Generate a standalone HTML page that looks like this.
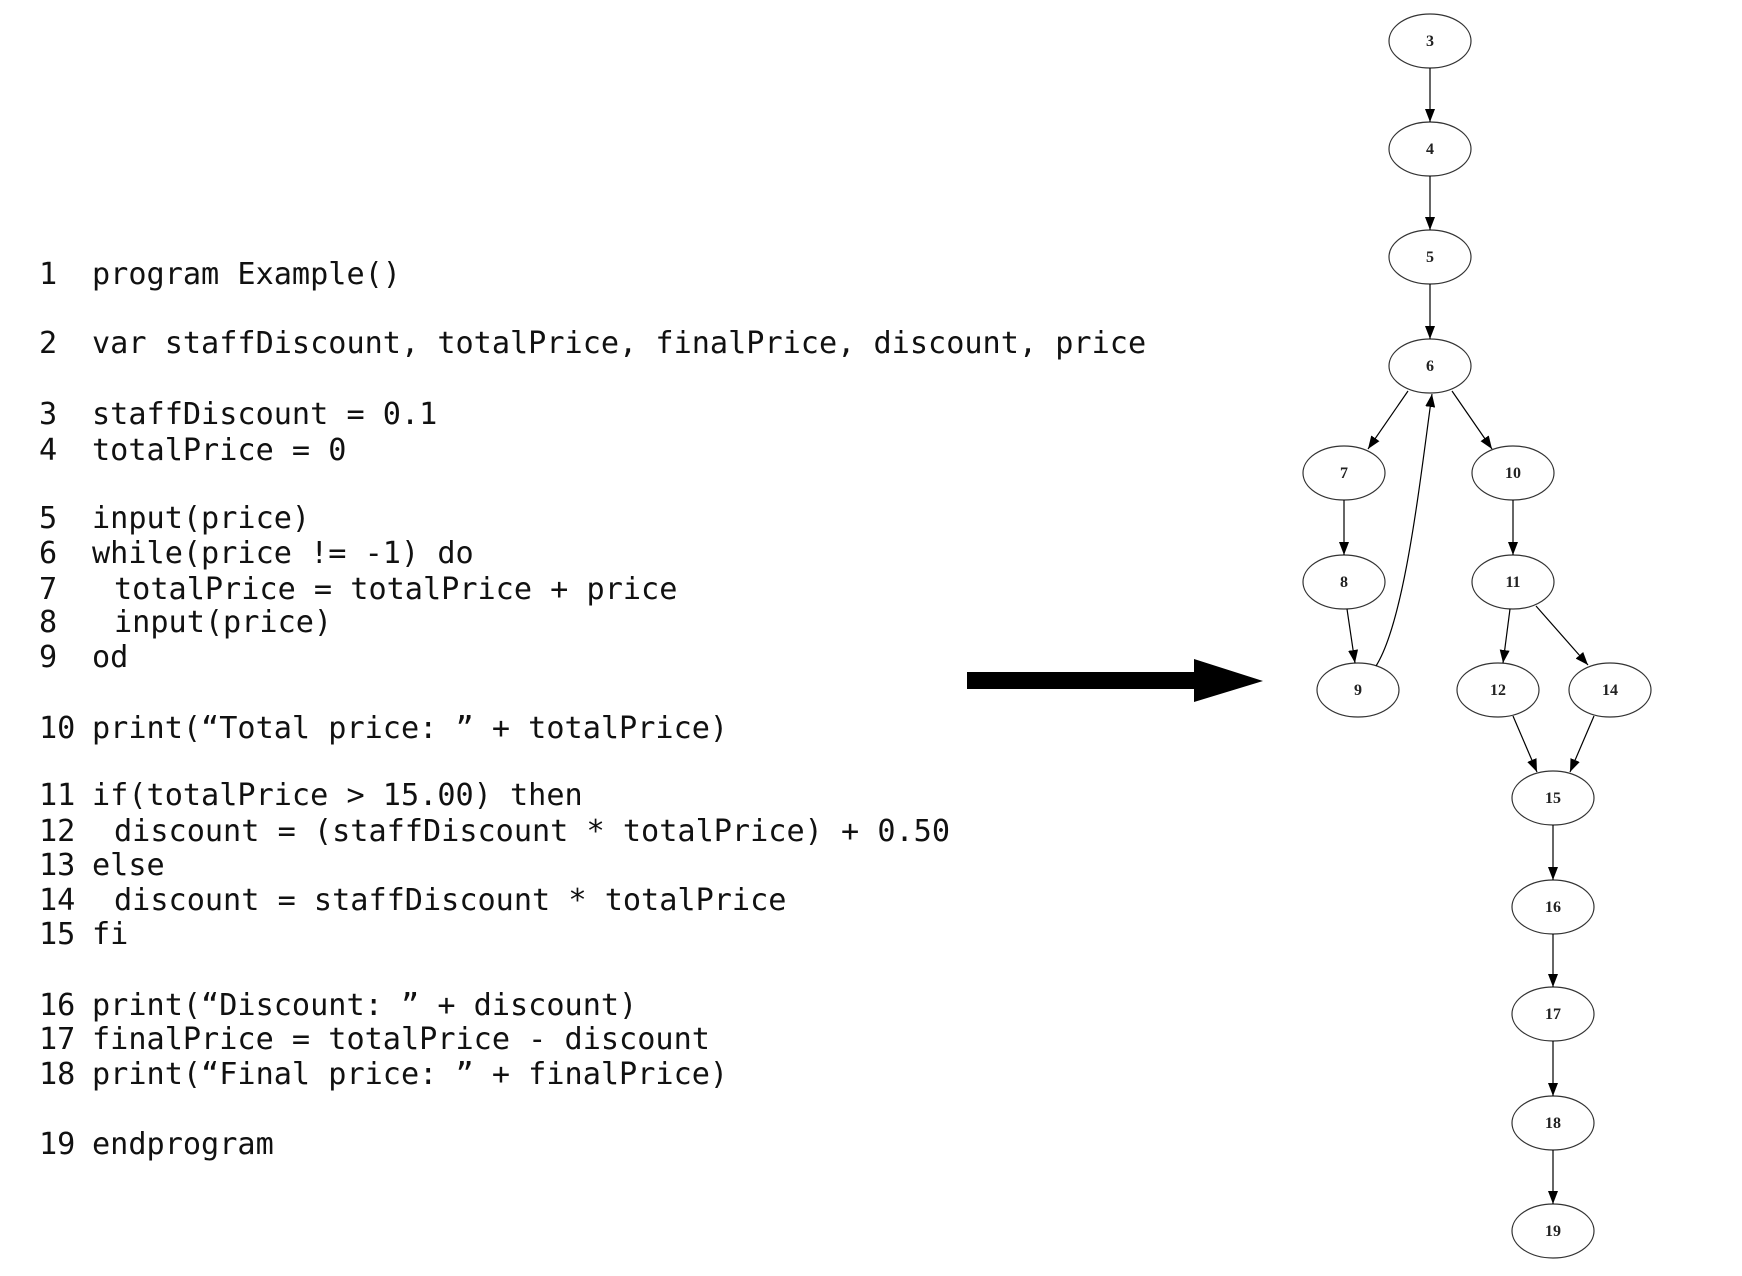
<!DOCTYPE html>
<html><head><meta charset="utf-8"><style>
html,body{margin:0;padding:0;background:#fff;}
svg{display:block;}
.c{font-family:"DejaVu Sans Mono","Liberation Mono",monospace;font-size:30.2px;fill:#111;}
.n{font-family:"Liberation Serif",serif;font-size:16px;font-weight:bold;fill:#222;text-anchor:middle;}
</style></head><body>
<svg width="1742" height="1276" viewBox="0 0 1742 1276" xmlns="http://www.w3.org/2000/svg">
<defs><marker id="a" markerUnits="userSpaceOnUse" markerWidth="14" markerHeight="10" refX="13" refY="5" orient="auto"><path d="M0,0 L13,5 L0,10 z" fill="#000"/></marker></defs>
<g class="c">
<text x="39" y="284">1</text><text x="92" y="284">program Example()</text>
<text x="39" y="353">2</text><text x="92" y="353">var staffDiscount, totalPrice, finalPrice, discount, price</text>
<text x="39" y="424">3</text><text x="92" y="424">staffDiscount = 0.1</text>
<text x="39" y="460">4</text><text x="92" y="460">totalPrice = 0</text>
<text x="39" y="528">5</text><text x="92" y="528">input(price)</text>
<text x="39" y="563">6</text><text x="92" y="563">while(price != -1) do</text>
<text x="39" y="599">7</text><text x="114" y="599">totalPrice = totalPrice + price</text>
<text x="39" y="632">8</text><text x="114" y="632">input(price)</text>
<text x="39" y="667">9</text><text x="92" y="667">od</text>
<text x="39" y="738">10</text><text x="92" y="738">print(“Total price: ” + totalPrice)</text>
<text x="39" y="805">11</text><text x="92" y="805">if(totalPrice &gt; 15.00) then</text>
<text x="39" y="841">12</text><text x="114" y="841">discount = (staffDiscount * totalPrice) + 0.50</text>
<text x="39" y="875">13</text><text x="92" y="875">else</text>
<text x="39" y="910">14</text><text x="114" y="910">discount = staffDiscount * totalPrice</text>
<text x="39" y="944">15</text><text x="92" y="944">fi</text>
<text x="39" y="1015">16</text><text x="92" y="1015">print(“Discount: ” + discount)</text>
<text x="39" y="1049">17</text><text x="92" y="1049">finalPrice = totalPrice - discount</text>
<text x="39" y="1084">18</text><text x="92" y="1084">print(“Final price: ” + finalPrice)</text>
<text x="39" y="1154">19</text><text x="92" y="1154">endprogram</text>
</g>
<path d="M967,672 H1194 V659 L1263,681 L1194,702 V689 H967 z" fill="#000"/>
<g fill="#fff" stroke="#333" stroke-width="1.2">
<ellipse cx="1430" cy="41" rx="41" ry="27"/>
<ellipse cx="1430" cy="149" rx="41" ry="27"/>
<ellipse cx="1430" cy="257" rx="41" ry="27"/>
<ellipse cx="1430" cy="366" rx="41" ry="27"/>
<ellipse cx="1344" cy="473" rx="41" ry="27"/>
<ellipse cx="1513" cy="473" rx="41" ry="27"/>
<ellipse cx="1344" cy="582" rx="41" ry="27"/>
<ellipse cx="1513" cy="582" rx="41" ry="27"/>
<ellipse cx="1358" cy="690" rx="41" ry="27"/>
<ellipse cx="1498" cy="690" rx="41" ry="27"/>
<ellipse cx="1610" cy="690" rx="41" ry="27"/>
<ellipse cx="1553" cy="798" rx="41" ry="27"/>
<ellipse cx="1553" cy="907" rx="41" ry="27"/>
<ellipse cx="1553" cy="1014" rx="41" ry="27"/>
<ellipse cx="1553" cy="1123" rx="41" ry="27"/>
<ellipse cx="1553" cy="1231" rx="41" ry="27"/>
</g>
<g stroke="#000" stroke-width="1.2" fill="none" marker-end="url(#a)">
<line x1="1430" y1="68" x2="1430" y2="122"/>
<line x1="1430" y1="176" x2="1430" y2="230"/>
<line x1="1430" y1="284" x2="1430" y2="339"/>
<line x1="1408" y1="391" x2="1368" y2="449"/>
<line x1="1452" y1="391" x2="1492" y2="449"/>
<line x1="1344" y1="500" x2="1344" y2="555"/>
<line x1="1513" y1="500" x2="1513" y2="555"/>
<line x1="1347" y1="609" x2="1355" y2="663"/>
<line x1="1510" y1="609" x2="1503" y2="663"/>
<line x1="1536" y1="606" x2="1588" y2="665"/>
<line x1="1513" y1="716" x2="1537" y2="772"/>
<line x1="1594" y1="716" x2="1570" y2="772"/>
<line x1="1553" y1="825" x2="1553" y2="880"/>
<line x1="1553" y1="934" x2="1553" y2="987"/>
<line x1="1553" y1="1041" x2="1553" y2="1096"/>
<line x1="1553" y1="1150" x2="1553" y2="1204"/>
<path d="M1376,666 C1405,620 1420,480 1432,394"/>
</g>
<g class="n">
<text x="1430" y="46">3</text><text x="1430" y="154">4</text><text x="1430" y="262">5</text>
<text x="1430" y="371">6</text><text x="1344" y="478">7</text><text x="1513" y="478">10</text>
<text x="1344" y="587">8</text><text x="1513" y="587">11</text><text x="1358" y="695">9</text>
<text x="1498" y="695">12</text><text x="1610" y="695">14</text><text x="1553" y="803">15</text>
<text x="1553" y="912">16</text><text x="1553" y="1019">17</text><text x="1553" y="1128">18</text>
<text x="1553" y="1236">19</text>
</g>
</svg>
</body></html>
